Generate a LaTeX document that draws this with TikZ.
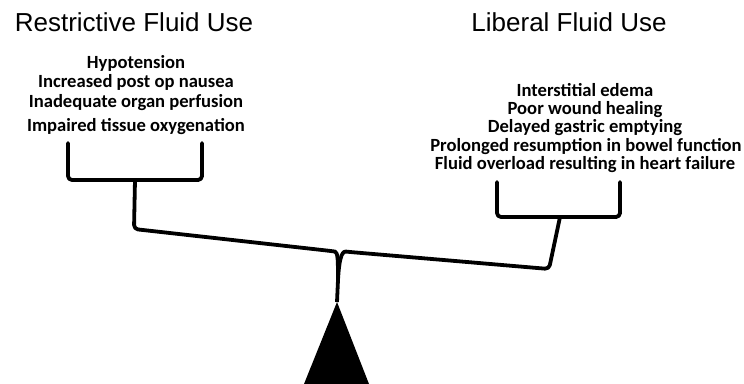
\documentclass[tikz,border=0pt]{standalone}
\usepackage{fontspec}
\setmainfont{Liberation Sans}
\newfontfamily\bodyfont{Carlito}
\begin{document}
\begin{tikzpicture}[x=1pt,y=-1pt,
  title/.style={font=\fontsize{26}{30}\selectfont, inner sep=0pt, anchor=center},
  item/.style={font=\bodyfont\bfseries\fontsize{18.6}{20}\selectfont, inner sep=0pt, anchor=center},
  beam/.style={line width=3.8pt, rounded corners=4pt, line join=round, line cap=round}]
\useasboundingbox (0,0) rectangle (744,383);
% titles
\node[title] (tl) at (134,22) {Restrictive Fluid Use};
\node[title] (tr) at (569,22) {Liberal Fluid Use};
% left items
\node[item] (l1) at (136,63) {Hypotension};
\node[item] (l2) at (136,82) {Increased post op nausea};
\node[item] (l3) at (136,103) {Inadequate organ perfusion};
\node[item] (l4) at (136,127) {Impaired tissue oxygenation};
% right items
\node[item] (r1) at (585,90) {Interstitial edema};
\node[item] (r2) at (585,110) {Poor wound healing};
\node[item] (r3) at (585,128) {Delayed gastric emptying};
\node[item] (r4) at (586,147) {Prolonged resumption in bowel function};
\node[item] (r5) at (585,165) {Fluid overload resulting in heart failure};
% key points
\coordinate (lbl) at (68,143);
\coordinate (lbr) at (202,143);
\coordinate (lstem) at (135,180);
\coordinate (rbl) at (497,182);
\coordinate (rbr) at (620,182);
\coordinate (rstem) at (560,217);
\coordinate (joint) at (338,280);
\coordinate (apex) at (337,302);
\coordinate (baseL) at (304,384);
\coordinate (baseR) at (369,384);
% brackets
\draw[beam] (lbl) -- (68,180) -- (202,180) -- (lbr);
\draw[beam] (rbl) -- (497,217) -- (620,217) -- (rbr);
% beams
\draw[beam] (lstem) -- (134,229) -- (331,251) .. controls (338,252) and (338,262) .. (joint);
\draw[beam] (rstem) -- (549,269) -- (350,252) .. controls (341,251) and (339,262) .. (joint);
\draw[line width=3.8pt] (joint) -- (apex);
% fulcrum
\fill (apex) -- (baseR) -- (baseL) -- cycle;
\end{tikzpicture}
\end{document}
